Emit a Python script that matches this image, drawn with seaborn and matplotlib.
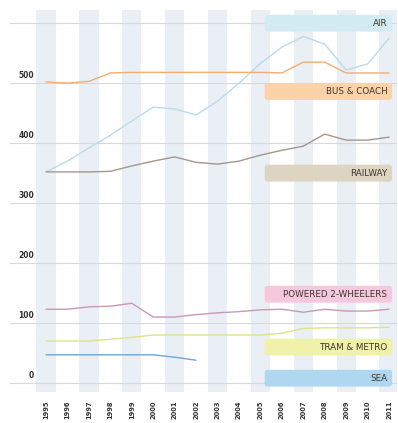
import numpy as np
import pandas as pd
import matplotlib
matplotlib.use("Agg")
import matplotlib.pyplot as plt
import matplotlib.transforms as mtransforms
from matplotlib.patches import FancyBboxPatch
import seaborn as sns

# ---- data ----
years = list(range(1995, 2012))
air = [352, 370, 392, 413, 437, 460, 457, 447, 470, 500, 533, 560, 578, 565, 522, 532, 575]
bus_coach = [502, 500, 503, 517, 518, 518, 518, 518, 518, 518, 518, 517, 535, 535, 517, 517, 517]
railway = [352, 352, 352, 353, 362, 370, 377, 368, 365, 370, 380, 388, 395, 415, 405, 405, 410]
ptw = [123, 123, 127, 128, 133, 110, 110, 114, 117, 119, 122, 123, 118, 123, 120, 120, 123]
tram_metro = [70, 70, 70, 73, 76, 80, 80, 80, 80, 80, 80, 83, 91, 92, 92, 92, 93]
sea = [47, 47, 47, 47, 47, 47, 43, 38] + [np.nan] * 9

series_names = ["AIR", "BUS & COACH", "RAILWAY", "POWERED 2-WHEELERS", "TRAM & METRO", "SEA"]
series_values = [air, bus_coach, railway, ptw, tram_metro, sea]
line_colors = ["#b9dcea", "#f2ad73", "#a3968a", "#c899b6", "#dde38a", "#6fa6d8"]
box_colors = ["#d3ebf3", "#fcd3a8", "#ddd4c1", "#f5c8de", "#eff2a8", "#afd7f0"]
box_centers = [600, 486, 350, 148, 60, 8]
y_ticks = [0, 100, 200, 300, 400, 500, 600]
y_tick_labels = ["0", "100", "200", "300", "400", "500", ""]

rows = []
for name, vals in zip(series_names, series_values):
    for y, v in zip(years, vals):
        rows.append({"year": y, "value": v, "mode": name})
df = pd.DataFrame(rows).dropna()

sns.set_theme(style="white")
plt.rcParams["font.family"] = ["DejaVu Sans"]

fig = plt.figure(figsize=(3.98, 4.23), dpi=100)
ax = fig.add_axes([10 / 398, 31 / 423, 387 / 398, 382 / 423])

# alternating year bands
for y in years:
    if (y - 1995) % 2 == 0:
        ax.axvspan(y - 0.45, y + 0.45, color="#e9eff4", zorder=0, lw=0)

sns.lineplot(data=df, x="year", y="value", hue="mode",
             palette=dict(zip(series_names, line_colors)),
             hue_order=series_names, linewidth=1.0, legend=False, ax=ax, zorder=2)

ax.set_xlim(1993.32, 2011.37)
ax.set_ylim(-15, 622)

ax.set_yticks(y_ticks)
ax.set_yticklabels(y_tick_labels)
ax.yaxis.grid(True, color="#d9d9d9", linewidth=0.8, zorder=1)
ax.xaxis.grid(False)
ax.set_axisbelow(True)
ax.tick_params(axis="y", length=0, pad=-17.3, labelsize=5.5, colors="#333333")
offset = mtransforms.ScaledTranslation(0, 2.0 / 72, fig.dpi_scale_trans)
for lab in ax.get_yticklabels():
    lab.set_va("bottom")
    lab.set_ha("right")
    lab.set_fontweight("bold")
    lab.set_transform(lab.get_transform() + offset)

ax.set_xticks(years)
ax.set_xticklabels([str(y) for y in years], rotation=90, fontsize=4.8,
                   color="#333333", fontweight="bold")
ax.tick_params(axis="x", length=0, pad=6)
ax.set_xlabel("")
ax.set_ylabel("")
for s in ax.spines.values():
    s.set_visible(False)

# label boxes
x0 = 2005.2
x1 = 2011.14
aspect = (1 / 0.6) / (1 / 21.44)
for name, col, cy in zip(series_names, box_colors, box_centers):
    patch = FancyBboxPatch((x0, cy - 14), x1 - x0, 28,
                           boxstyle="round,pad=0,rounding_size=0.12",
                           mutation_aspect=aspect, fc=col, ec="none", zorder=3)
    ax.add_patch(patch)
    ax.text(2010.92, cy, name, ha="right", va="center", fontsize=6.3,
            color="#3b352c", zorder=4)

fig.savefig("out.png", dpi=100)
